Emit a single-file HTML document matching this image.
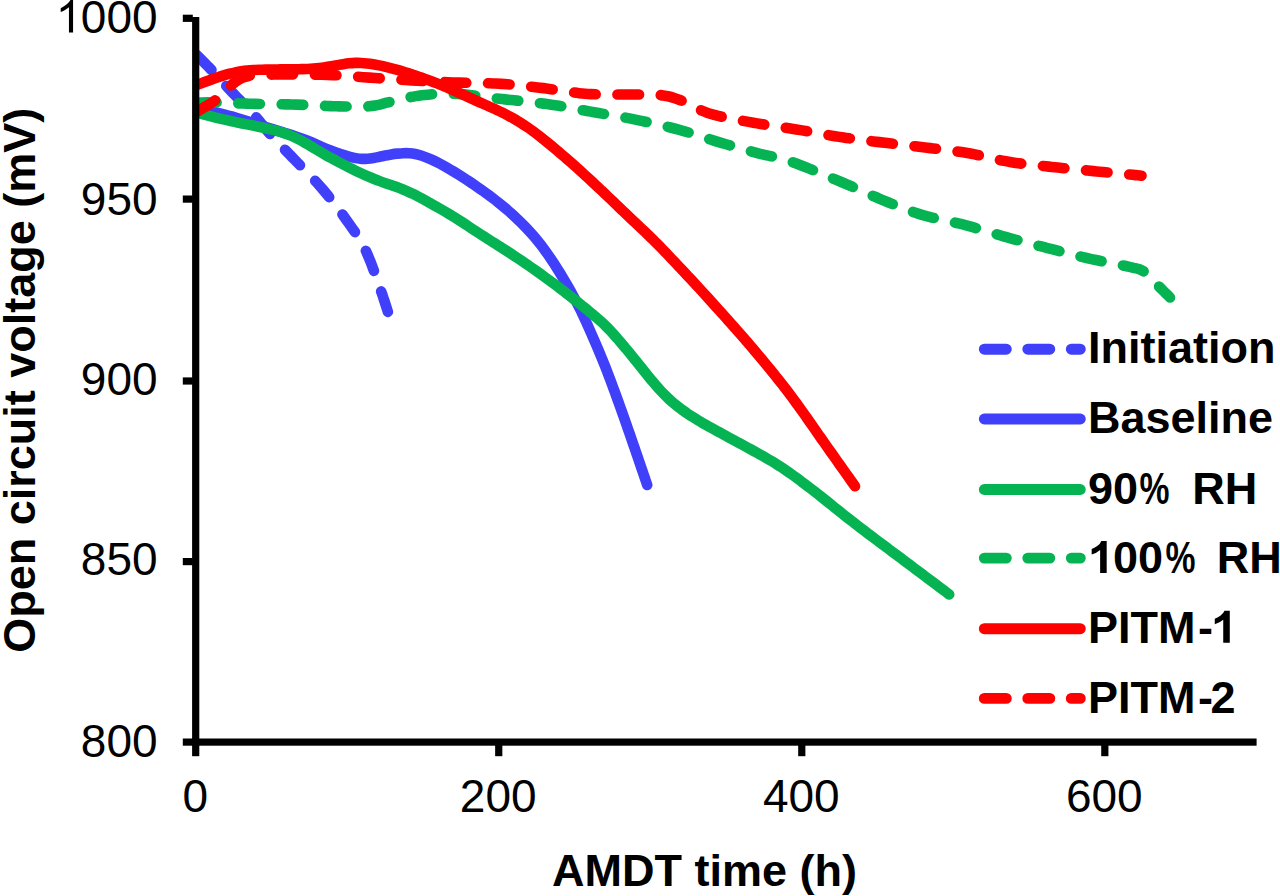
<!DOCTYPE html>
<html><head><meta charset="utf-8"><title>Chart</title>
<style>
html,body{margin:0;padding:0;background:#fff;}
body{width:1280px;height:896px;overflow:hidden;}
svg{display:block;}
.t{font-family:"Liberation Sans",sans-serif;font-size:46px;fill:#000;}
.b{font-family:"Liberation Sans",sans-serif;font-size:45px;font-weight:bold;fill:#000;}
</style></head><body>
<svg width="1280" height="896" viewBox="0 0 1280 896">
<rect width="1280" height="896" fill="#fff"/>
<defs><clipPath id="cp"><rect x="193" y="0" width="1087" height="896"/></clipPath></defs>
<g clip-path="url(#cp)">
<path d="M195.50 53.75 C196.21 54.46 198.34 56.60 199.75 58.02 C201.17 59.45 202.59 60.87 204.00 62.30 C205.41 63.73 206.83 65.16 208.23 66.60 C209.63 68.04 211.03 69.48 212.41 70.94 C213.79 72.40 215.16 73.87 216.53 75.34 C217.89 76.82 219.24 78.31 220.60 79.79 C221.96 81.27 223.30 82.76 224.67 84.24 C226.03 85.72 227.39 87.20 228.76 88.66 C230.14 90.13 231.52 91.58 232.91 93.03 C234.30 94.48 235.70 95.93 237.10 97.37 C238.50 98.81 239.91 100.25 241.31 101.69 C242.71 103.13 244.12 104.56 245.51 106.01 C246.91 107.45 248.31 108.90 249.69 110.35 C251.07 111.81 252.46 113.27 253.81 114.76 C255.16 116.24 256.50 117.74 257.81 119.27 C259.11 120.79 260.38 122.36 261.65 123.91 C262.92 125.47 264.16 127.05 265.44 128.60 C266.73 130.15 268.02 131.68 269.35 133.19 C270.67 134.70 272.04 136.18 273.40 137.65 C274.77 139.13 276.16 140.58 277.55 142.03 C278.94 143.48 280.34 144.92 281.73 146.37 C283.13 147.81 284.54 149.25 285.93 150.69 C287.33 152.14 288.73 153.58 290.12 155.03 C291.52 156.47 292.91 157.92 294.31 159.36 C295.71 160.81 297.12 162.24 298.52 163.68 C299.93 165.11 301.35 166.54 302.75 167.97 C304.16 169.40 305.58 170.83 306.98 172.27 C308.38 173.71 309.78 175.15 311.17 176.60 C312.56 178.06 313.94 179.51 315.31 180.99 C316.67 182.46 318.03 183.95 319.36 185.45 C320.70 186.95 322.01 188.47 323.31 190.00 C324.61 191.54 325.89 193.09 327.16 194.64 C328.43 196.20 329.68 197.77 330.93 199.35 C332.18 200.93 333.41 202.51 334.63 204.10 C335.86 205.70 337.08 207.30 338.28 208.90 C339.49 210.51 340.69 212.12 341.88 213.74 C343.07 215.36 344.26 216.98 345.43 218.61 C346.61 220.24 347.78 221.88 348.94 223.51 C350.10 225.15 351.26 226.79 352.41 228.44 C353.56 230.09 354.72 231.74 355.84 233.41 C356.95 235.07 358.07 236.75 359.13 238.46 C360.18 240.16 361.21 241.89 362.18 243.65 C363.16 245.41 364.08 247.19 364.97 249.00 C365.86 250.80 366.69 252.63 367.51 254.47 C368.32 256.30 369.08 258.16 369.83 260.03 C370.58 261.89 371.30 263.77 372.01 265.65 C372.72 267.53 373.41 269.41 374.10 271.30 C374.78 273.19 375.46 275.09 376.13 276.98 C376.80 278.87 377.46 280.77 378.13 282.67 C378.79 284.56 379.46 286.46 380.12 288.36 C380.78 290.25 381.45 292.15 382.10 294.05 C382.74 295.95 383.38 297.86 384.01 299.77 C384.64 301.68 385.26 303.59 385.87 305.50 C386.48 307.42 387.08 309.33 387.69 311.25 C388.29 313.17 389.20 316.04 389.50 317.00" fill="none" stroke="#4040fa" stroke-width="10.6" stroke-linecap="round" stroke-linejoin="round" stroke-dasharray="21.6 21.75" stroke-dashoffset="-1.2"/>
<path d="M195.50 107.50 C196.47 107.73 199.40 108.43 201.35 108.89 C203.29 109.36 205.24 109.82 207.19 110.29 C209.14 110.76 211.09 111.23 213.03 111.70 C214.98 112.18 216.93 112.66 218.87 113.15 C220.81 113.64 222.75 114.13 224.69 114.64 C226.63 115.15 228.56 115.67 230.49 116.21 C232.42 116.74 234.35 117.29 236.27 117.86 C238.19 118.42 240.11 119.00 242.03 119.58 C243.95 120.16 245.86 120.76 247.77 121.35 C249.68 121.95 251.60 122.55 253.51 123.16 C255.42 123.76 257.33 124.36 259.24 124.96 C261.15 125.56 263.06 126.17 264.97 126.77 C266.88 127.37 268.79 127.97 270.71 128.56 C272.62 129.16 274.53 129.77 276.44 130.36 C278.35 130.96 280.27 131.56 282.18 132.15 C284.09 132.74 286.01 133.33 287.92 133.92 C289.83 134.52 291.75 135.11 293.66 135.73 C295.56 136.34 297.47 136.97 299.36 137.63 C301.25 138.29 303.13 138.97 305.00 139.69 C306.87 140.42 308.72 141.18 310.57 141.96 C312.41 142.74 314.24 143.56 316.07 144.37 C317.90 145.18 319.73 146.02 321.56 146.82 C323.40 147.62 325.24 148.41 327.09 149.17 C328.95 149.92 330.82 150.65 332.70 151.34 C334.57 152.04 336.47 152.70 338.37 153.34 C340.27 153.97 342.17 154.58 344.09 155.16 C346.01 155.74 347.93 156.31 349.87 156.80 C351.81 157.30 353.76 157.78 355.73 158.13 C357.71 158.47 359.70 158.75 361.70 158.86 C363.69 158.96 365.71 158.91 367.70 158.76 C369.69 158.61 371.68 158.29 373.66 157.96 C375.63 157.64 377.59 157.19 379.55 156.79 C381.51 156.39 383.46 155.93 385.43 155.54 C387.39 155.15 389.36 154.76 391.34 154.44 C393.31 154.12 395.30 153.84 397.29 153.63 C399.28 153.42 401.28 153.25 403.28 153.19 C405.28 153.13 407.30 153.11 409.29 153.25 C411.29 153.39 413.29 153.64 415.25 154.02 C417.21 154.40 419.15 154.95 421.06 155.55 C422.97 156.14 424.84 156.86 426.71 157.60 C428.57 158.33 430.41 159.13 432.24 159.95 C434.06 160.77 435.87 161.64 437.66 162.53 C439.45 163.43 441.23 164.37 442.98 165.33 C444.74 166.29 446.48 167.29 448.21 168.29 C449.94 169.30 451.66 170.34 453.37 171.38 C455.08 172.42 456.78 173.47 458.48 174.54 C460.18 175.60 461.87 176.67 463.56 177.76 C465.24 178.84 466.92 179.94 468.59 181.04 C470.26 182.15 471.93 183.26 473.58 184.39 C475.24 185.51 476.89 186.65 478.54 187.79 C480.18 188.93 481.82 190.09 483.45 191.25 C485.08 192.42 486.70 193.59 488.31 194.79 C489.92 195.98 491.52 197.19 493.11 198.41 C494.69 199.63 496.27 200.87 497.83 202.12 C499.40 203.37 500.95 204.64 502.49 205.92 C504.04 207.20 505.57 208.48 507.09 209.79 C508.61 211.09 510.12 212.41 511.62 213.74 C513.11 215.08 514.59 216.43 516.06 217.80 C517.52 219.16 518.96 220.55 520.39 221.96 C521.82 223.36 523.23 224.79 524.62 226.23 C526.01 227.67 527.39 229.12 528.75 230.60 C530.11 232.07 531.44 233.56 532.76 235.07 C534.08 236.58 535.37 238.11 536.64 239.66 C537.92 241.20 539.17 242.77 540.40 244.35 C541.63 245.93 542.84 247.53 544.03 249.14 C545.22 250.75 546.39 252.38 547.55 254.01 C548.70 255.65 549.84 257.30 550.96 258.96 C552.08 260.62 553.18 262.30 554.27 263.98 C555.36 265.66 556.43 267.35 557.50 269.04 C558.57 270.74 559.62 272.44 560.67 274.15 C561.72 275.86 562.75 277.57 563.78 279.29 C564.81 281.01 565.83 282.74 566.83 284.47 C567.84 286.20 568.83 287.94 569.81 289.69 C570.79 291.44 571.76 293.19 572.71 294.96 C573.67 296.72 574.61 298.49 575.54 300.26 C576.47 302.03 577.39 303.81 578.30 305.60 C579.21 307.38 580.11 309.18 580.99 310.97 C581.87 312.77 582.74 314.58 583.59 316.39 C584.45 318.20 585.28 320.02 586.11 321.85 C586.94 323.67 587.76 325.50 588.58 327.33 C589.39 329.16 590.20 330.99 591.01 332.82 C591.81 334.66 592.62 336.49 593.41 338.33 C594.21 340.17 595.01 342.01 595.80 343.85 C596.59 345.69 597.37 347.53 598.15 349.38 C598.93 351.23 599.71 353.07 600.47 354.92 C601.24 356.77 602.00 358.63 602.75 360.49 C603.50 362.34 604.25 364.20 604.99 366.07 C605.72 367.93 606.45 369.79 607.17 371.66 C607.90 373.53 608.61 375.40 609.32 377.28 C610.03 379.15 610.74 381.03 611.44 382.90 C612.14 384.78 612.83 386.66 613.53 388.54 C614.22 390.42 614.91 392.30 615.60 394.18 C616.28 396.06 616.97 397.94 617.65 399.83 C618.34 401.71 619.02 403.59 619.69 405.48 C620.37 407.37 621.05 409.25 621.72 411.14 C622.39 413.03 623.06 414.92 623.72 416.81 C624.39 418.70 625.05 420.59 625.71 422.48 C626.37 424.37 627.03 426.26 627.69 428.15 C628.35 430.04 629.01 431.94 629.67 433.83 C630.32 435.72 630.98 437.61 631.63 439.51 C632.29 441.40 632.94 443.29 633.60 445.19 C634.25 447.08 634.90 448.98 635.55 450.87 C636.20 452.77 636.85 454.66 637.50 456.56 C638.15 458.45 638.80 460.35 639.45 462.24 C640.09 464.14 640.74 466.04 641.39 467.93 C642.03 469.83 642.68 471.72 643.32 473.62 C643.97 475.52 644.62 477.41 645.26 479.31 C645.91 481.21 646.88 484.05 647.20 485.00" fill="none" stroke="#4040fa" stroke-width="10.6" stroke-linecap="round" stroke-linejoin="round"/>
<path d="M195.50 112.50 C196.47 112.74 199.38 113.48 201.32 113.97 C203.27 114.46 205.21 114.95 207.15 115.43 C209.09 115.92 211.03 116.41 212.98 116.89 C214.92 117.37 216.87 117.85 218.81 118.32 C220.76 118.79 222.71 119.25 224.66 119.70 C226.61 120.15 228.56 120.60 230.52 121.02 C232.47 121.45 234.43 121.86 236.39 122.26 C238.36 122.66 240.32 123.05 242.28 123.44 C244.25 123.82 246.22 124.20 248.18 124.58 C250.15 124.97 252.11 125.36 254.07 125.76 C256.03 126.16 257.99 126.57 259.95 126.98 C261.91 127.40 263.87 127.83 265.82 128.27 C267.77 128.72 269.72 129.16 271.67 129.63 C273.61 130.11 275.56 130.59 277.49 131.12 C279.42 131.66 281.34 132.22 283.24 132.84 C285.14 133.47 287.03 134.14 288.89 134.87 C290.76 135.61 292.60 136.41 294.41 137.25 C296.23 138.09 298.02 138.99 299.79 139.92 C301.56 140.85 303.31 141.83 305.05 142.82 C306.79 143.81 308.51 144.83 310.24 145.85 C311.96 146.87 313.67 147.91 315.39 148.93 C317.11 149.96 318.83 150.99 320.55 152.00 C322.28 153.02 324.01 154.03 325.75 155.02 C327.49 156.01 329.24 156.98 331.00 157.94 C332.75 158.91 334.51 159.86 336.28 160.80 C338.05 161.74 339.82 162.68 341.59 163.60 C343.37 164.53 345.15 165.45 346.93 166.36 C348.71 167.27 350.50 168.18 352.29 169.07 C354.08 169.96 355.88 170.85 357.68 171.72 C359.49 172.58 361.30 173.44 363.12 174.28 C364.94 175.11 366.76 175.93 368.60 176.72 C370.44 177.51 372.29 178.27 374.16 179.01 C376.02 179.75 377.89 180.45 379.77 181.14 C381.65 181.83 383.54 182.49 385.43 183.14 C387.33 183.80 389.23 184.43 391.12 185.09 C393.01 185.74 394.91 186.39 396.79 187.08 C398.67 187.76 400.54 188.46 402.40 189.21 C404.26 189.95 406.11 190.73 407.93 191.54 C409.76 192.36 411.57 193.22 413.37 194.10 C415.17 194.98 416.95 195.90 418.72 196.83 C420.49 197.77 422.25 198.73 424.01 199.68 C425.76 200.64 427.51 201.62 429.26 202.59 C431.01 203.57 432.76 204.55 434.50 205.53 C436.24 206.51 437.99 207.50 439.72 208.50 C441.46 209.49 443.19 210.50 444.92 211.51 C446.65 212.53 448.37 213.55 450.08 214.58 C451.79 215.62 453.50 216.67 455.20 217.73 C456.89 218.79 458.58 219.87 460.27 220.95 C461.95 222.04 463.62 223.14 465.30 224.24 C466.97 225.34 468.64 226.45 470.30 227.55 C471.97 228.66 473.64 229.77 475.31 230.87 C476.99 231.97 478.66 233.06 480.34 234.15 C482.02 235.24 483.71 236.32 485.40 237.40 C487.09 238.47 488.78 239.54 490.47 240.61 C492.16 241.68 493.86 242.75 495.55 243.82 C497.24 244.89 498.94 245.96 500.62 247.04 C502.31 248.11 504.00 249.20 505.68 250.28 C507.36 251.37 509.04 252.46 510.71 253.56 C512.38 254.66 514.06 255.76 515.72 256.87 C517.39 257.98 519.06 259.09 520.72 260.21 C522.38 261.33 524.03 262.45 525.69 263.58 C527.34 264.71 528.99 265.85 530.63 266.99 C532.28 268.13 533.92 269.28 535.56 270.43 C537.19 271.58 538.83 272.74 540.46 273.91 C542.08 275.07 543.71 276.24 545.33 277.42 C546.95 278.59 548.56 279.78 550.18 280.96 C551.79 282.15 553.39 283.35 555.00 284.55 C556.60 285.75 558.20 286.96 559.79 288.17 C561.38 289.38 562.97 290.60 564.56 291.82 C566.14 293.05 567.72 294.28 569.30 295.51 C570.87 296.75 572.44 297.99 574.01 299.23 C575.58 300.48 577.15 301.73 578.71 302.98 C580.27 304.23 581.84 305.48 583.40 306.74 C584.95 307.99 586.51 309.25 588.07 310.51 C589.62 311.78 591.17 313.05 592.70 314.33 C594.24 315.62 595.77 316.91 597.28 318.22 C598.79 319.54 600.29 320.87 601.76 322.23 C603.22 323.59 604.67 324.97 606.10 326.38 C607.52 327.79 608.91 329.22 610.29 330.68 C611.66 332.13 613.01 333.62 614.34 335.11 C615.68 336.60 616.99 338.11 618.30 339.63 C619.61 341.15 620.90 342.67 622.20 344.20 C623.49 345.73 624.77 347.27 626.06 348.80 C627.34 350.34 628.62 351.88 629.89 353.43 C631.16 354.98 632.43 356.53 633.69 358.08 C634.95 359.63 636.21 361.19 637.47 362.75 C638.72 364.31 639.98 365.87 641.23 367.43 C642.48 368.99 643.73 370.56 644.99 372.12 C646.24 373.68 647.50 375.24 648.76 376.79 C650.02 378.35 651.29 379.90 652.57 381.43 C653.86 382.97 655.15 384.50 656.47 386.01 C657.79 387.51 659.12 389.01 660.48 390.48 C661.84 391.95 663.21 393.40 664.63 394.82 C666.04 396.24 667.47 397.64 668.94 399.00 C670.41 400.36 671.91 401.69 673.43 402.99 C674.96 404.29 676.51 405.55 678.09 406.78 C679.67 408.01 681.28 409.21 682.90 410.38 C684.52 411.55 686.17 412.69 687.83 413.81 C689.49 414.93 691.17 416.02 692.86 417.09 C694.55 418.17 696.25 419.22 697.97 420.26 C699.68 421.29 701.41 422.31 703.14 423.31 C704.88 424.31 706.62 425.29 708.37 426.26 C710.12 427.23 711.88 428.19 713.63 429.15 C715.39 430.12 717.15 431.07 718.91 432.03 C720.66 433.00 722.42 433.96 724.17 434.92 C725.93 435.88 727.68 436.85 729.44 437.80 C731.20 438.76 732.96 439.72 734.72 440.67 C736.48 441.62 738.25 442.57 740.01 443.52 C741.77 444.47 743.53 445.43 745.29 446.38 C747.05 447.34 748.81 448.29 750.57 449.25 C752.32 450.21 754.08 451.17 755.83 452.14 C757.59 453.11 759.34 454.08 761.08 455.06 C762.83 456.04 764.57 457.02 766.31 458.02 C768.04 459.02 769.77 460.03 771.49 461.06 C773.21 462.09 774.92 463.12 776.62 464.19 C778.32 465.25 780.01 466.32 781.68 467.42 C783.35 468.52 785.01 469.64 786.66 470.78 C788.31 471.91 789.94 473.07 791.57 474.24 C793.20 475.41 794.81 476.59 796.42 477.78 C798.04 478.97 799.64 480.16 801.24 481.37 C802.84 482.57 804.44 483.77 806.04 484.98 C807.63 486.19 809.23 487.41 810.81 488.63 C812.40 489.85 813.99 491.07 815.56 492.30 C817.14 493.53 818.72 494.77 820.29 496.01 C821.86 497.25 823.42 498.51 824.99 499.76 C826.55 501.01 828.11 502.26 829.67 503.51 C831.23 504.77 832.79 506.02 834.36 507.27 C835.92 508.52 837.48 509.78 839.05 511.02 C840.61 512.27 842.18 513.52 843.74 514.77 C845.31 516.01 846.88 517.26 848.46 518.50 C850.03 519.73 851.60 520.97 853.18 522.20 C854.76 523.43 856.35 524.66 857.93 525.88 C859.52 527.10 861.11 528.31 862.70 529.53 C864.30 530.74 865.89 531.95 867.49 533.16 C869.09 534.37 870.69 535.57 872.29 536.77 C873.89 537.98 875.49 539.18 877.09 540.38 C878.69 541.58 880.30 542.78 881.90 543.98 C883.50 545.18 885.11 546.37 886.71 547.57 C888.31 548.77 889.92 549.97 891.52 551.17 C893.13 552.37 894.73 553.57 896.33 554.77 C897.94 555.96 899.54 557.16 901.14 558.36 C902.75 559.56 904.35 560.76 905.95 561.97 C907.55 563.17 909.15 564.37 910.76 565.57 C912.36 566.77 913.96 567.97 915.56 569.17 C917.16 570.37 918.77 571.57 920.37 572.78 C921.97 573.98 923.57 575.18 925.17 576.38 C926.77 577.58 928.38 578.78 929.98 579.98 C931.58 581.19 933.18 582.39 934.78 583.59 C936.39 584.79 937.99 585.99 939.59 587.19 C941.19 588.39 942.79 589.59 944.39 590.80 C946.00 592.00 948.40 593.80 949.20 594.40" fill="none" stroke="#06b353" stroke-width="10.6" stroke-linecap="round" stroke-linejoin="round"/>
<path d="M195.50 102.50 C196.50 102.49 199.49 102.46 201.49 102.45 C203.48 102.44 205.48 102.42 207.48 102.42 C209.47 102.42 211.47 102.42 213.47 102.44 C215.46 102.47 217.46 102.51 219.45 102.56 C221.45 102.62 223.44 102.70 225.44 102.77 C227.43 102.85 229.43 102.94 231.42 103.03 C233.41 103.12 235.41 103.21 237.40 103.29 C239.40 103.38 241.39 103.46 243.39 103.53 C245.38 103.60 247.38 103.67 249.37 103.73 C251.37 103.78 253.36 103.83 255.36 103.87 C257.35 103.91 259.35 103.94 261.35 103.97 C263.34 104.00 265.34 104.02 267.33 104.05 C269.33 104.08 271.33 104.10 273.32 104.13 C275.32 104.16 277.31 104.19 279.31 104.22 C281.31 104.25 283.30 104.29 285.30 104.33 C287.29 104.37 289.29 104.42 291.28 104.47 C293.28 104.53 295.28 104.59 297.27 104.67 C299.27 104.74 301.26 104.82 303.25 104.91 C305.25 105.00 307.24 105.09 309.24 105.18 C311.23 105.28 313.22 105.38 315.22 105.47 C317.21 105.56 319.21 105.66 321.20 105.75 C323.19 105.83 325.19 105.92 327.18 106.00 C329.18 106.07 331.17 106.14 333.17 106.20 C335.16 106.26 337.16 106.30 339.15 106.35 C341.15 106.40 343.15 106.46 345.14 106.50 C347.14 106.55 349.13 106.60 351.13 106.62 C353.12 106.65 355.12 106.68 357.12 106.68 C359.11 106.67 361.11 106.66 363.10 106.59 C365.10 106.52 367.10 106.45 369.08 106.27 C371.07 106.09 373.06 105.87 375.03 105.54 C376.99 105.21 378.94 104.75 380.88 104.29 C382.82 103.82 384.73 103.24 386.66 102.74 C388.60 102.23 390.53 101.74 392.47 101.27 C394.41 100.80 396.36 100.36 398.30 99.90 C400.24 99.44 402.18 98.95 404.12 98.50 C406.07 98.05 408.01 97.60 409.97 97.20 C411.93 96.81 413.89 96.44 415.86 96.12 C417.83 95.81 419.81 95.55 421.79 95.31 C423.77 95.08 425.76 94.88 427.75 94.70 C429.74 94.51 431.73 94.35 433.72 94.22 C435.71 94.08 437.70 93.97 439.70 93.88 C441.69 93.79 443.69 93.73 445.68 93.70 C447.68 93.67 449.67 93.66 451.67 93.70 C453.67 93.73 455.66 93.79 457.65 93.90 C459.65 94.01 461.64 94.17 463.63 94.36 C465.61 94.54 467.60 94.78 469.58 95.02 C471.56 95.26 473.54 95.53 475.52 95.79 C477.49 96.06 479.47 96.34 481.45 96.60 C483.43 96.87 485.41 97.13 487.39 97.38 C489.37 97.63 491.35 97.86 493.33 98.09 C495.32 98.31 497.30 98.53 499.29 98.74 C501.27 98.96 503.26 99.17 505.24 99.38 C507.23 99.59 509.21 99.80 511.20 100.01 C513.18 100.22 515.17 100.43 517.15 100.64 C519.14 100.85 521.12 101.07 523.11 101.28 C525.09 101.50 527.07 101.72 529.06 101.94 C531.04 102.16 533.03 102.38 535.01 102.62 C536.99 102.85 538.97 103.08 540.95 103.33 C542.93 103.57 544.92 103.82 546.89 104.09 C548.87 104.35 550.85 104.63 552.82 104.92 C554.80 105.21 556.77 105.51 558.74 105.83 C560.71 106.15 562.68 106.48 564.65 106.82 C566.62 107.17 568.58 107.53 570.54 107.89 C572.51 108.25 574.47 108.62 576.43 108.99 C578.39 109.36 580.35 109.74 582.31 110.11 C584.27 110.49 586.23 110.86 588.20 111.22 C590.16 111.58 592.12 111.93 594.09 112.27 C596.06 112.62 598.03 112.95 599.99 113.29 C601.96 113.62 603.93 113.95 605.90 114.28 C607.87 114.61 609.84 114.93 611.81 115.26 C613.77 115.60 615.74 115.93 617.71 116.27 C619.68 116.61 621.64 116.96 623.61 117.31 C625.57 117.67 627.53 118.04 629.49 118.41 C631.45 118.79 633.41 119.18 635.37 119.58 C637.32 119.98 639.28 120.39 641.23 120.81 C643.18 121.22 645.13 121.64 647.08 122.07 C649.03 122.49 650.98 122.92 652.93 123.36 C654.88 123.80 656.82 124.25 658.77 124.70 C660.71 125.15 662.65 125.61 664.59 126.08 C666.53 126.55 668.47 127.03 670.41 127.51 C672.34 128.00 674.28 128.49 676.21 129.00 C678.14 129.51 680.07 130.03 681.99 130.56 C683.91 131.10 685.83 131.66 687.74 132.23 C689.65 132.80 691.56 133.40 693.46 134.00 C695.37 134.60 697.27 135.22 699.16 135.83 C701.06 136.45 702.96 137.08 704.86 137.70 C706.75 138.31 708.65 138.94 710.55 139.55 C712.45 140.16 714.35 140.76 716.26 141.35 C718.17 141.94 720.08 142.52 721.99 143.08 C723.91 143.65 725.82 144.21 727.74 144.77 C729.66 145.32 731.58 145.87 733.50 146.42 C735.42 146.97 737.34 147.51 739.26 148.05 C741.18 148.59 743.10 149.13 745.03 149.66 C746.95 150.20 748.87 150.73 750.80 151.25 C752.72 151.78 754.65 152.31 756.58 152.82 C758.51 153.34 760.44 153.86 762.37 154.33 C764.31 154.80 766.26 155.23 768.21 155.66 C770.16 156.08 772.13 156.44 774.08 156.87 C776.03 157.29 777.98 157.72 779.91 158.22 C781.85 158.71 783.77 159.26 785.67 159.85 C787.58 160.44 789.47 161.09 791.35 161.75 C793.24 162.41 795.10 163.11 796.97 163.82 C798.84 164.52 800.70 165.25 802.56 165.98 C804.42 166.71 806.27 167.45 808.12 168.19 C809.97 168.94 811.82 169.69 813.67 170.45 C815.52 171.21 817.36 171.97 819.20 172.73 C821.05 173.50 822.89 174.27 824.73 175.04 C826.57 175.81 828.41 176.58 830.26 177.35 C832.10 178.13 833.94 178.90 835.78 179.67 C837.62 180.45 839.46 181.22 841.30 182.00 C843.13 182.77 844.97 183.55 846.81 184.34 C848.64 185.13 850.47 185.92 852.30 186.73 C854.13 187.53 855.95 188.35 857.77 189.16 C859.59 189.98 861.41 190.80 863.23 191.62 C865.05 192.44 866.87 193.26 868.70 194.07 C870.52 194.88 872.34 195.69 874.18 196.48 C876.01 197.27 877.84 198.06 879.69 198.83 C881.53 199.60 883.38 200.35 885.22 201.11 C887.07 201.86 888.92 202.61 890.77 203.36 C892.62 204.11 894.47 204.86 896.33 205.60 C898.18 206.33 900.04 207.07 901.90 207.79 C903.76 208.50 905.63 209.21 907.50 209.90 C909.38 210.59 911.25 211.27 913.14 211.93 C915.03 212.58 916.92 213.22 918.82 213.83 C920.72 214.43 922.63 215.02 924.55 215.57 C926.46 216.12 928.39 216.64 930.33 217.13 C932.26 217.62 934.21 218.07 936.15 218.52 C938.10 218.97 940.05 219.39 942.00 219.81 C943.95 220.23 945.91 220.64 947.86 221.06 C949.81 221.48 951.76 221.89 953.71 222.32 C955.66 222.75 957.61 223.19 959.55 223.65 C961.49 224.12 963.43 224.61 965.36 225.11 C967.29 225.62 969.21 226.15 971.13 226.69 C973.06 227.24 974.97 227.79 976.89 228.36 C978.80 228.92 980.71 229.50 982.62 230.07 C984.54 230.65 986.44 231.23 988.35 231.81 C990.26 232.40 992.17 232.98 994.08 233.56 C995.99 234.13 997.91 234.71 999.82 235.28 C1001.73 235.84 1003.65 236.40 1005.57 236.95 C1007.49 237.49 1009.41 238.03 1011.34 238.56 C1013.26 239.09 1015.19 239.62 1017.12 240.14 C1019.04 240.66 1020.97 241.18 1022.90 241.69 C1024.83 242.20 1026.76 242.71 1028.69 243.22 C1030.62 243.73 1032.55 244.23 1034.48 244.74 C1036.41 245.24 1038.35 245.74 1040.28 246.24 C1042.21 246.74 1044.14 247.24 1046.08 247.74 C1048.01 248.24 1049.94 248.74 1051.88 249.23 C1053.81 249.73 1055.74 250.23 1057.67 250.73 C1059.61 251.23 1061.54 251.73 1063.47 252.23 C1065.40 252.73 1067.34 253.23 1069.27 253.72 C1071.21 254.21 1073.14 254.70 1075.08 255.18 C1077.02 255.66 1078.96 256.14 1080.90 256.61 C1082.84 257.07 1084.78 257.54 1086.72 257.99 C1088.67 258.44 1090.61 258.88 1092.56 259.31 C1094.51 259.74 1096.47 260.15 1098.42 260.56 C1100.38 260.97 1102.33 261.36 1104.29 261.75 C1106.25 262.15 1108.21 262.53 1110.16 262.92 C1112.12 263.30 1114.08 263.69 1116.04 264.07 C1118.00 264.46 1119.96 264.84 1121.91 265.24 C1123.87 265.64 1125.83 266.03 1127.78 266.46 C1129.73 266.88 1131.68 267.29 1133.62 267.77 C1135.56 268.25 1137.55 268.61 1139.40 269.31 C1141.25 270.02 1143.09 270.91 1144.73 272.01 C1146.37 273.11 1147.82 274.54 1149.25 275.93 C1150.67 277.32 1151.95 278.87 1153.29 280.34 C1154.64 281.81 1155.96 283.31 1157.33 284.76 C1158.70 286.22 1160.11 287.63 1161.52 289.05 C1162.92 290.46 1164.34 291.87 1165.75 293.28 C1167.17 294.69 1169.29 296.80 1170.00 297.50" fill="none" stroke="#06b353" stroke-width="10.6" stroke-linecap="round" stroke-linejoin="round" stroke-dasharray="21.6 21.75" stroke-dashoffset="0.5"/>
<path d="M195.50 85.50 C196.44 85.14 199.24 84.06 201.11 83.34 C202.99 82.63 204.86 81.92 206.74 81.22 C208.62 80.53 210.50 79.84 212.39 79.17 C214.28 78.51 216.18 77.85 218.08 77.22 C219.98 76.59 221.89 75.97 223.81 75.39 C225.73 74.81 227.65 74.25 229.59 73.74 C231.53 73.24 233.48 72.76 235.44 72.35 C237.40 71.94 239.38 71.59 241.36 71.29 C243.34 70.99 245.33 70.75 247.33 70.55 C249.32 70.35 251.32 70.21 253.32 70.09 C255.32 69.97 257.33 69.89 259.33 69.82 C261.33 69.75 263.34 69.71 265.34 69.66 C267.35 69.62 269.35 69.58 271.36 69.55 C273.36 69.52 275.36 69.49 277.37 69.46 C279.37 69.43 281.38 69.40 283.38 69.37 C285.39 69.35 287.39 69.32 289.39 69.30 C291.40 69.28 293.40 69.26 295.41 69.23 C297.41 69.21 299.42 69.18 301.42 69.13 C303.42 69.08 305.43 69.02 307.43 68.92 C309.43 68.83 311.43 68.71 313.43 68.56 C315.43 68.40 317.43 68.21 319.42 67.98 C321.41 67.75 323.39 67.47 325.38 67.18 C327.36 66.88 329.33 66.54 331.31 66.20 C333.29 65.86 335.26 65.49 337.23 65.14 C339.21 64.80 341.18 64.44 343.16 64.14 C345.14 63.84 347.13 63.55 349.12 63.34 C351.11 63.13 353.11 62.97 355.11 62.90 C357.12 62.83 359.13 62.83 361.13 62.92 C363.13 63.00 365.13 63.18 367.12 63.40 C369.11 63.63 371.09 63.94 373.07 64.27 C375.05 64.59 377.01 64.98 378.98 65.38 C380.94 65.77 382.90 66.20 384.86 66.65 C386.81 67.09 388.76 67.56 390.70 68.05 C392.65 68.54 394.58 69.06 396.52 69.60 C398.45 70.14 400.37 70.70 402.29 71.28 C404.21 71.86 406.12 72.46 408.03 73.08 C409.94 73.69 411.84 74.32 413.74 74.96 C415.64 75.60 417.53 76.25 419.43 76.92 C421.32 77.58 423.21 78.25 425.09 78.93 C426.98 79.62 428.86 80.31 430.73 81.01 C432.61 81.72 434.48 82.43 436.35 83.16 C438.22 83.89 440.08 84.64 441.93 85.39 C443.79 86.15 445.64 86.92 447.48 87.71 C449.33 88.49 451.17 89.29 453.00 90.10 C454.83 90.91 456.66 91.73 458.49 92.56 C460.31 93.39 462.13 94.23 463.96 95.06 C465.78 95.90 467.59 96.75 469.42 97.58 C471.24 98.42 473.06 99.26 474.88 100.10 C476.70 100.93 478.53 101.76 480.36 102.58 C482.18 103.40 484.02 104.22 485.85 105.03 C487.68 105.85 489.51 106.66 491.34 107.48 C493.17 108.30 495.00 109.13 496.81 109.98 C498.63 110.83 500.44 111.69 502.23 112.58 C504.03 113.47 505.81 114.38 507.58 115.32 C509.35 116.26 511.11 117.23 512.86 118.21 C514.60 119.20 516.33 120.21 518.05 121.24 C519.77 122.28 521.47 123.34 523.16 124.42 C524.84 125.50 526.51 126.61 528.17 127.75 C529.82 128.88 531.45 130.04 533.07 131.22 C534.69 132.40 536.29 133.61 537.88 134.83 C539.47 136.05 541.04 137.30 542.61 138.55 C544.17 139.80 545.72 141.07 547.27 142.34 C548.82 143.62 550.36 144.90 551.90 146.18 C553.44 147.47 554.97 148.76 556.50 150.05 C558.04 151.35 559.56 152.65 561.09 153.95 C562.61 155.25 564.13 156.56 565.65 157.87 C567.16 159.18 568.67 160.50 570.18 161.82 C571.69 163.14 573.19 164.47 574.69 165.80 C576.18 167.13 577.68 168.47 579.17 169.81 C580.66 171.15 582.14 172.50 583.62 173.85 C585.10 175.20 586.58 176.56 588.05 177.92 C589.52 179.28 590.99 180.64 592.46 182.01 C593.92 183.38 595.39 184.75 596.85 186.12 C598.31 187.49 599.77 188.87 601.22 190.25 C602.68 191.62 604.13 193.00 605.59 194.38 C607.04 195.76 608.49 197.15 609.94 198.53 C611.39 199.92 612.84 201.30 614.28 202.69 C615.73 204.08 617.17 205.47 618.62 206.86 C620.07 208.25 621.51 209.64 622.96 211.02 C624.41 212.41 625.85 213.79 627.31 215.18 C628.76 216.56 630.21 217.94 631.67 219.31 C633.13 220.69 634.59 222.06 636.05 223.43 C637.52 224.80 638.98 226.17 640.44 227.54 C641.90 228.92 643.36 230.29 644.81 231.67 C646.27 233.05 647.71 234.44 649.15 235.84 C650.59 237.23 652.02 238.64 653.44 240.05 C654.86 241.47 656.27 242.89 657.68 244.32 C659.09 245.74 660.49 247.18 661.88 248.62 C663.28 250.06 664.67 251.50 666.05 252.95 C667.44 254.40 668.82 255.85 670.21 257.30 C671.59 258.75 672.97 260.21 674.34 261.66 C675.72 263.12 677.10 264.58 678.47 266.04 C679.85 267.50 681.22 268.96 682.59 270.42 C683.96 271.88 685.33 273.34 686.70 274.81 C688.07 276.27 689.44 277.74 690.80 279.20 C692.17 280.67 693.53 282.14 694.89 283.61 C696.25 285.08 697.61 286.56 698.97 288.03 C700.32 289.51 701.68 290.99 703.03 292.47 C704.38 293.95 705.72 295.44 707.07 296.92 C708.41 298.41 709.76 299.90 711.10 301.39 C712.44 302.88 713.78 304.37 715.12 305.86 C716.47 307.34 717.81 308.83 719.15 310.32 C720.49 311.81 721.83 313.30 723.17 314.79 C724.51 316.28 725.85 317.77 727.19 319.27 C728.53 320.76 729.87 322.25 731.20 323.75 C732.54 325.24 733.87 326.74 735.20 328.24 C736.53 329.74 737.85 331.24 739.18 332.75 C740.50 334.26 741.82 335.77 743.13 337.28 C744.45 338.79 745.76 340.31 747.07 341.83 C748.38 343.34 749.68 344.87 750.98 346.39 C752.29 347.91 753.59 349.44 754.88 350.97 C756.18 352.50 757.47 354.03 758.76 355.56 C760.05 357.10 761.34 358.63 762.62 360.17 C763.91 361.71 765.19 363.26 766.46 364.80 C767.74 366.35 769.01 367.90 770.27 369.46 C771.54 371.01 772.80 372.57 774.05 374.13 C775.31 375.70 776.56 377.26 777.80 378.84 C779.04 380.41 780.28 381.98 781.51 383.56 C782.75 385.14 783.98 386.73 785.20 388.32 C786.42 389.91 787.64 391.50 788.85 393.09 C790.06 394.69 791.27 396.29 792.47 397.90 C793.67 399.51 794.86 401.12 796.04 402.73 C797.23 404.35 798.40 405.97 799.57 407.60 C800.75 409.23 801.91 410.86 803.07 412.50 C804.23 414.13 805.38 415.77 806.53 417.41 C807.68 419.05 808.83 420.70 809.98 422.34 C811.12 423.98 812.27 425.63 813.41 427.27 C814.56 428.92 815.71 430.56 816.85 432.21 C818.00 433.85 819.15 435.50 820.30 437.14 C821.45 438.78 822.60 440.42 823.75 442.06 C824.91 443.70 826.06 445.34 827.21 446.98 C828.37 448.61 829.53 450.25 830.68 451.89 C831.84 453.53 833.00 455.16 834.15 456.80 C835.31 458.44 836.47 460.07 837.63 461.71 C838.78 463.35 839.94 464.98 841.10 466.62 C842.26 468.25 843.42 469.89 844.57 471.53 C845.73 473.16 846.89 474.80 848.05 476.43 C849.21 478.07 850.37 479.71 851.52 481.34 C852.68 482.98 854.42 485.43 855.00 486.25" fill="none" stroke="#ff0000" stroke-width="10.6" stroke-linecap="round" stroke-linejoin="round"/>
<path d="M195.50 112.50 C196.36 111.99 198.95 110.47 200.68 109.45 C202.40 108.43 204.14 107.43 205.85 106.39 C207.56 105.35 209.27 104.30 210.95 103.21 C212.63 102.12 214.31 101.02 215.92 99.83 C217.52 98.63 219.09 97.37 220.58 96.04 C222.07 94.71 223.45 93.25 224.86 91.82 C226.27 90.40 227.61 88.91 229.04 87.50 C230.46 86.09 231.88 84.66 233.41 83.38 C234.95 82.10 236.54 80.85 238.25 79.83 C239.96 78.80 241.79 77.92 243.66 77.23 C245.53 76.55 247.50 76.08 249.46 75.69 C251.42 75.31 253.43 75.10 255.42 74.92 C257.41 74.74 259.42 74.69 261.42 74.63 C263.42 74.57 265.43 74.58 267.43 74.57 C269.43 74.57 271.44 74.59 273.44 74.57 C275.44 74.56 277.45 74.54 279.45 74.51 C281.45 74.48 283.46 74.42 285.46 74.40 C287.46 74.37 289.47 74.35 291.47 74.34 C293.47 74.33 295.48 74.34 297.48 74.34 C299.48 74.35 301.49 74.37 303.49 74.39 C305.49 74.42 307.50 74.44 309.50 74.48 C311.50 74.51 313.50 74.55 315.51 74.60 C317.51 74.64 319.51 74.69 321.52 74.74 C323.52 74.80 325.52 74.86 327.52 74.92 C329.53 74.99 331.53 75.06 333.53 75.15 C335.53 75.24 337.53 75.34 339.53 75.45 C341.53 75.57 343.53 75.70 345.53 75.84 C347.53 75.98 349.52 76.13 351.52 76.28 C353.52 76.44 355.52 76.60 357.51 76.75 C359.51 76.91 361.51 77.07 363.51 77.21 C365.50 77.36 367.50 77.50 369.50 77.64 C371.50 77.77 373.50 77.91 375.50 78.05 C377.50 78.19 379.49 78.33 381.49 78.47 C383.49 78.61 385.49 78.75 387.49 78.89 C389.49 79.02 391.49 79.16 393.48 79.29 C395.48 79.42 397.48 79.55 399.48 79.67 C401.48 79.79 403.48 79.91 405.48 80.03 C407.48 80.14 409.48 80.25 411.48 80.36 C413.48 80.48 415.48 80.59 417.48 80.69 C419.48 80.80 421.48 80.91 423.48 81.01 C425.49 81.12 427.49 81.22 429.49 81.32 C431.49 81.43 433.49 81.53 435.49 81.62 C437.49 81.72 439.49 81.82 441.49 81.91 C443.49 82.00 445.49 82.10 447.50 82.18 C449.50 82.27 451.50 82.36 453.50 82.44 C455.50 82.51 457.50 82.59 459.51 82.65 C461.51 82.71 463.51 82.76 465.52 82.80 C467.52 82.85 469.52 82.88 471.52 82.91 C473.53 82.95 475.53 82.98 477.53 83.01 C479.54 83.05 481.54 83.08 483.54 83.12 C485.55 83.17 487.55 83.22 489.55 83.28 C491.55 83.35 493.55 83.42 495.56 83.52 C497.56 83.62 499.56 83.73 501.56 83.86 C503.55 83.99 505.55 84.14 507.55 84.30 C509.55 84.46 511.54 84.64 513.54 84.82 C515.53 85.01 517.53 85.20 519.52 85.40 C521.51 85.61 523.50 85.82 525.50 86.04 C527.49 86.26 529.48 86.48 531.47 86.71 C533.46 86.94 535.45 87.17 537.44 87.41 C539.43 87.64 541.42 87.87 543.40 88.12 C545.39 88.37 547.38 88.64 549.36 88.92 C551.35 89.19 553.33 89.50 555.31 89.80 C557.29 90.10 559.27 90.42 561.25 90.72 C563.23 91.03 565.20 91.34 567.19 91.63 C569.17 91.93 571.15 92.21 573.14 92.47 C575.12 92.73 577.11 92.98 579.10 93.19 C581.10 93.40 583.09 93.58 585.09 93.73 C587.09 93.88 589.09 93.99 591.09 94.09 C593.09 94.18 595.09 94.25 597.09 94.30 C599.10 94.35 601.10 94.38 603.10 94.41 C605.11 94.43 607.11 94.44 609.11 94.45 C611.12 94.46 613.12 94.45 615.12 94.45 C617.13 94.45 619.13 94.45 621.13 94.45 C623.14 94.45 625.14 94.46 627.14 94.47 C629.15 94.49 631.15 94.52 633.15 94.53 C635.16 94.54 637.16 94.53 639.16 94.53 C641.17 94.52 643.17 94.50 645.17 94.50 C647.18 94.50 649.18 94.49 651.18 94.54 C653.19 94.59 655.19 94.65 657.19 94.80 C659.18 94.95 661.18 95.15 663.16 95.44 C665.14 95.72 667.12 96.07 669.07 96.53 C671.02 96.99 672.94 97.57 674.84 98.19 C676.75 98.81 678.63 99.50 680.49 100.26 C682.34 101.02 684.16 101.86 685.96 102.73 C687.77 103.60 689.52 104.56 691.31 105.48 C693.09 106.40 694.85 107.34 696.65 108.22 C698.45 109.10 700.26 109.97 702.10 110.76 C703.94 111.54 705.81 112.28 707.70 112.93 C709.59 113.59 711.52 114.16 713.44 114.71 C715.37 115.25 717.32 115.73 719.27 116.19 C721.22 116.66 723.17 117.08 725.13 117.50 C727.09 117.91 729.06 118.30 731.03 118.68 C732.99 119.07 734.96 119.43 736.93 119.79 C738.90 120.15 740.88 120.50 742.85 120.85 C744.82 121.20 746.79 121.55 748.77 121.89 C750.74 122.24 752.71 122.60 754.69 122.94 C756.66 123.29 758.63 123.63 760.61 123.96 C762.58 124.30 764.56 124.62 766.54 124.93 C768.52 125.24 770.50 125.54 772.48 125.84 C774.46 126.14 776.44 126.44 778.42 126.73 C780.41 127.02 782.39 127.31 784.37 127.60 C786.35 127.90 788.33 128.19 790.31 128.49 C792.30 128.79 794.28 129.09 796.25 129.40 C798.23 129.72 800.21 130.04 802.19 130.37 C804.16 130.71 806.13 131.05 808.11 131.40 C810.08 131.75 812.05 132.11 814.02 132.47 C815.99 132.83 817.96 133.19 819.93 133.55 C821.90 133.91 823.87 134.27 825.85 134.63 C827.82 134.98 829.79 135.33 831.77 135.66 C833.74 136.00 835.72 136.32 837.70 136.63 C839.68 136.94 841.66 137.24 843.64 137.53 C845.62 137.82 847.61 138.10 849.59 138.37 C851.58 138.64 853.56 138.90 855.55 139.16 C857.54 139.42 859.52 139.67 861.51 139.92 C863.50 140.17 865.49 140.42 867.47 140.66 C869.46 140.91 871.45 141.15 873.44 141.39 C875.43 141.64 877.42 141.88 879.41 142.12 C881.39 142.36 883.38 142.61 885.37 142.85 C887.36 143.09 889.35 143.33 891.34 143.56 C893.33 143.80 895.32 144.03 897.31 144.26 C899.30 144.49 901.29 144.72 903.28 144.95 C905.27 145.18 907.26 145.40 909.25 145.63 C911.24 145.86 913.23 146.09 915.22 146.33 C917.21 146.56 919.20 146.80 921.19 147.04 C923.18 147.28 925.17 147.52 927.15 147.76 C929.14 148.00 931.13 148.23 933.12 148.47 C935.11 148.70 937.10 148.93 939.09 149.16 C941.08 149.39 943.07 149.62 945.06 149.86 C947.05 150.10 949.04 150.34 951.03 150.60 C953.01 150.85 955.00 151.11 956.98 151.39 C958.97 151.67 960.95 151.96 962.93 152.27 C964.91 152.58 966.89 152.91 968.86 153.26 C970.83 153.61 972.80 154.00 974.76 154.40 C976.72 154.80 978.68 155.23 980.63 155.67 C982.59 156.10 984.54 156.56 986.49 157.01 C988.44 157.46 990.39 157.92 992.35 158.36 C994.30 158.81 996.25 159.26 998.21 159.68 C1000.17 160.11 1002.13 160.52 1004.09 160.90 C1006.06 161.29 1008.03 161.65 1010.01 161.98 C1011.98 162.31 1013.96 162.61 1015.95 162.90 C1017.93 163.18 1019.92 163.45 1021.90 163.70 C1023.89 163.95 1025.88 164.19 1027.87 164.41 C1029.86 164.64 1031.85 164.86 1033.84 165.07 C1035.84 165.28 1037.83 165.48 1039.82 165.69 C1041.81 165.89 1043.81 166.09 1045.80 166.30 C1047.79 166.50 1049.79 166.71 1051.78 166.92 C1053.77 167.13 1055.76 167.35 1057.75 167.56 C1059.75 167.77 1061.74 167.98 1063.73 168.18 C1065.73 168.38 1067.72 168.58 1069.71 168.78 C1071.71 168.98 1073.70 169.18 1075.69 169.37 C1077.69 169.57 1079.68 169.76 1081.67 169.96 C1083.67 170.15 1085.66 170.34 1087.66 170.54 C1089.65 170.73 1091.64 170.92 1093.64 171.12 C1095.63 171.31 1097.63 171.51 1099.62 171.70 C1101.61 171.89 1103.61 172.08 1105.60 172.28 C1107.60 172.47 1109.59 172.66 1111.59 172.85 C1113.58 173.04 1115.57 173.23 1117.57 173.42 C1119.56 173.61 1121.56 173.80 1123.55 173.99 C1125.55 174.18 1127.54 174.37 1129.53 174.56 C1131.53 174.75 1133.52 174.94 1135.52 175.13 C1137.51 175.32 1140.50 175.61 1141.50 175.70" fill="none" stroke="#ff0000" stroke-width="10.6" stroke-linecap="round" stroke-linejoin="round" stroke-dasharray="21.6 21.75" stroke-dashoffset="-1.5"/>
</g>
<rect x="192.10" y="17.00" width="7.20" height="728.70" fill="#000"/>
<rect x="192.10" y="738.50" width="1064.50" height="7.20" fill="#000"/>
<rect x="182.8" y="14.70" width="10" height="7.20" fill="#000"/>
<text x="157.6" y="32.50" text-anchor="end" class="t">000</text>
<path transform="translate(55.60,32.60) scale(0.02290,-0.02215)" d="M763 0H583V1147Q518 1085 412.5 1023T223 930V1104Q374 1175 487 1276T647 1472H763Z" fill="#000"/>
<rect x="182.8" y="195.50" width="10" height="7.20" fill="#000"/>
<text x="157.6" y="215.00" text-anchor="end" class="t">950</text>
<rect x="182.8" y="377.40" width="10" height="7.20" fill="#000"/>
<text x="157.6" y="395.00" text-anchor="end" class="t">900</text>
<rect x="182.8" y="558.00" width="10" height="7.20" fill="#000"/>
<text x="157.6" y="575.00" text-anchor="end" class="t">850</text>
<rect x="182.8" y="738.50" width="10" height="7.20" fill="#000"/>
<text x="157.6" y="757.40" text-anchor="end" class="t">800</text>
<rect x="192.10" y="742" width="7.20" height="14.2" fill="#000"/>
<text x="195.20" y="812" text-anchor="middle" class="t">0</text>
<rect x="495.14" y="742" width="7.20" height="14.2" fill="#000"/>
<text x="498.24" y="812" text-anchor="middle" class="t">200</text>
<rect x="798.18" y="742" width="7.20" height="14.2" fill="#000"/>
<text x="801.28" y="812" text-anchor="middle" class="t">400</text>
<rect x="1101.22" y="742" width="7.20" height="14.2" fill="#000"/>
<text x="1104.32" y="812" text-anchor="middle" class="t">600</text>
<text x="704.6" y="885.6" text-anchor="middle" class="b">AMDT time (h)</text>
<text transform="translate(34.5,380.2) rotate(-90)" text-anchor="middle" class="b">Open circuit voltage (mV)</text>
<path d="M984.3 349.20 H1080.3" fill="none" stroke="#4040fa" stroke-width="10.9" stroke-linecap="round" stroke-dasharray="22 21.5"/>
<text x="1088" y="363.40" class="b">Initiation</text>
<path d="M984.3 419.00 H1080.3" fill="none" stroke="#4040fa" stroke-width="10.9" stroke-linecap="round"/>
<text x="1088" y="433.20" class="b">Baseline</text>
<path d="M984.3 489.50 H1080.3" fill="none" stroke="#06b353" stroke-width="10.9" stroke-linecap="round"/>
<text x="1088" y="503.70" class="b">90</text>
<text transform="translate(1139.6,503.70) scale(0.75,1)" class="b">%</text>
<text x="1192.3" y="503.70" class="b">RH</text>
<path d="M984.3 558.10 H1080.3" fill="none" stroke="#06b353" stroke-width="10.9" stroke-linecap="round" stroke-dasharray="22 21.5"/>
<path transform="translate(1087.90,573.00) scale(0.02330,-0.02174)" d="M806 0H525V1059Q371 915 162 846V1101Q272 1137 401 1237.5T578 1472H806Z" fill="#000"/>
<text x="1113.03" y="573.00" class="b">00</text>
<text transform="translate(1165.6,573.00) scale(0.75,1)" class="b">%</text>
<text x="1216.8" y="573.00" class="b">RH</text>
<path d="M984.3 628.70 H1080.3" fill="none" stroke="#ff0000" stroke-width="10.9" stroke-linecap="round"/>
<text x="1088" y="642.90" class="b">PITM</text>
<text x="1198" y="642.90" class="b">-</text>
<path transform="translate(1211.00,642.70) scale(0.02330,-0.02174)" d="M806 0H525V1059Q371 915 162 846V1101Q272 1137 401 1237.5T578 1472H806Z" fill="#000"/>
<path d="M984.3 698.40 H1080.3" fill="none" stroke="#ff0000" stroke-width="10.9" stroke-linecap="round" stroke-dasharray="22 21.5"/>
<text x="1088" y="712.60" class="b">PITM</text>
<text x="1198" y="712.60" class="b">-</text>
<text x="1210.5" y="712.60" class="b">2</text>
</svg>
</body></html>
